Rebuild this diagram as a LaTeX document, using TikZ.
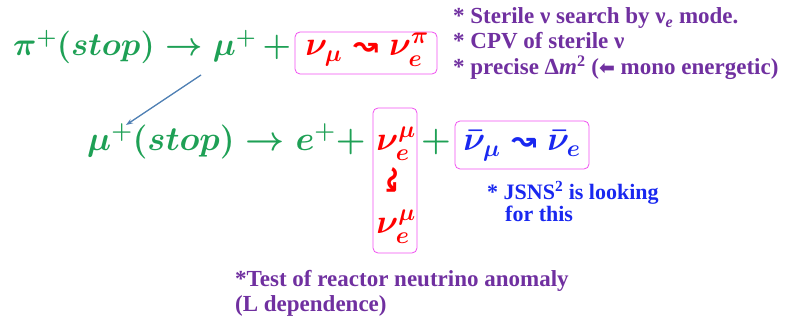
\RequirePackage{fix-cm}
\documentclass[tikz,border=0pt]{standalone}
\usepackage{amsmath,amssymb}
\usepackage{fontspec}
\setmainfont{Liberation Serif}
\newfontfamily\symfont{DejaVu Sans}
\usetikzlibrary{arrows.meta}
\definecolor{eqgreen}{RGB}{30,160,85}
\definecolor{nured}{RGB}{255,0,0}
\definecolor{boxpink}{RGB}{240,80,240}
\definecolor{nublue}{RGB}{25,40,240}
\definecolor{notepurple}{RGB}{112,48,160}
\definecolor{arrblue}{RGB}{80,128,180}
\newcommand{\sq}{\mathrel{\text{\symfont\bfseries\fontsize{30}{30}\selectfont ↝}}}
\tikzset{
  eq/.style={inner sep=0pt, font=\fontsize{34}{36}\selectfont\boldmath},
  nubox/.style={draw=boxpink, line width=0.8pt, rounded corners=5pt, inner sep=0pt},
  note/.style={inner sep=0pt, anchor=base west, font=\fontsize{23}{25}\selectfont\bfseries, align=left},
}
\begin{document}
\begin{tikzpicture}[x=1pt,y=-1pt]
\useasboundingbox (0,0) rectangle (790,326);
% line 1
\node[eq, text=eqgreen, anchor=base west, font=\fontsize{32.5}{35}\selectfont\boldmath] (eq1) at (13,56) {$\pi^{+}(stop)\rightarrow \mu^{+}\, +$};
\node[nubox, minimum width=142pt, minimum height=42pt] (box1) at (366,53) {};
\node[eq, text=nured, anchor=base] (nu1) at (367,56) {$\nu_{\mu}\sq \nu_{e}^{\pi}$};
% line 2
\node[eq, text=eqgreen, anchor=base west] (eq2) at (87,151) {$\mu^{+}(stop)\rightarrow e^{+}+$};
\node[nubox, minimum width=44pt, minimum height=145pt] (box2) at (395,180.5) {};
\node[eq, text=nured, anchor=base] (nu2a) at (396,150) {$\nu_{e}^{\mu}$};
\node[inner sep=0pt, text=nured, font=\symfont\bfseries\fontsize{30}{30}\selectfont, rotate=-90] (sq2) at (391,180) {↝};
\node[eq, text=nured, anchor=base] (nu2b) at (396,233) {$\nu_{e}^{\mu}$};
\node[eq, text=eqgreen, anchor=base] (plus2) at (436,151) {$+$};
\node[nubox, minimum width=134pt, minimum height=48pt] (box3) at (522,145) {};
\node[eq, text=nublue, anchor=base] (nu3) at (522,151) {$\bar{\nu}_{\mu}\sq \bar{\nu}_{e}$};
% connector
\coordinate (a1) at (201,75);
\coordinate (a2) at (126,125);
\draw[arrblue, line width=1.3pt, -{Stealth[length=7pt,width=5pt]}] (a1) -- (a2);
% notes
\node[note, text=notepurple] (n1) at (453,24) {* Sterile ν search by ν\textsubscript{\textit{e}} mode.};
\node[note, text=notepurple] (n2) at (453,49) {* CPV of sterile ν};
\node[note, text=notepurple] (n3) at (453,75) {* precise Δ\textit{m}\textsuperscript{2} ({\symfont\fontsize{19}{19}\selectfont ⬅} mono energetic)};
\node[note, text=nublue, font=\fontsize{22}{24}\selectfont\bfseries] (n4) at (487,199) {* JSNS\textsuperscript{2} is looking};
\node[note, text=nublue, font=\fontsize{22}{24}\selectfont\bfseries] (n5) at (505,222) {for this};
\node[note, text=notepurple] (n6) at (235,286) {*Test of reactor neutrino anomaly};
\node[note, text=notepurple] (n7) at (235,311) {(L dependence)};
\end{tikzpicture}
\end{document}
